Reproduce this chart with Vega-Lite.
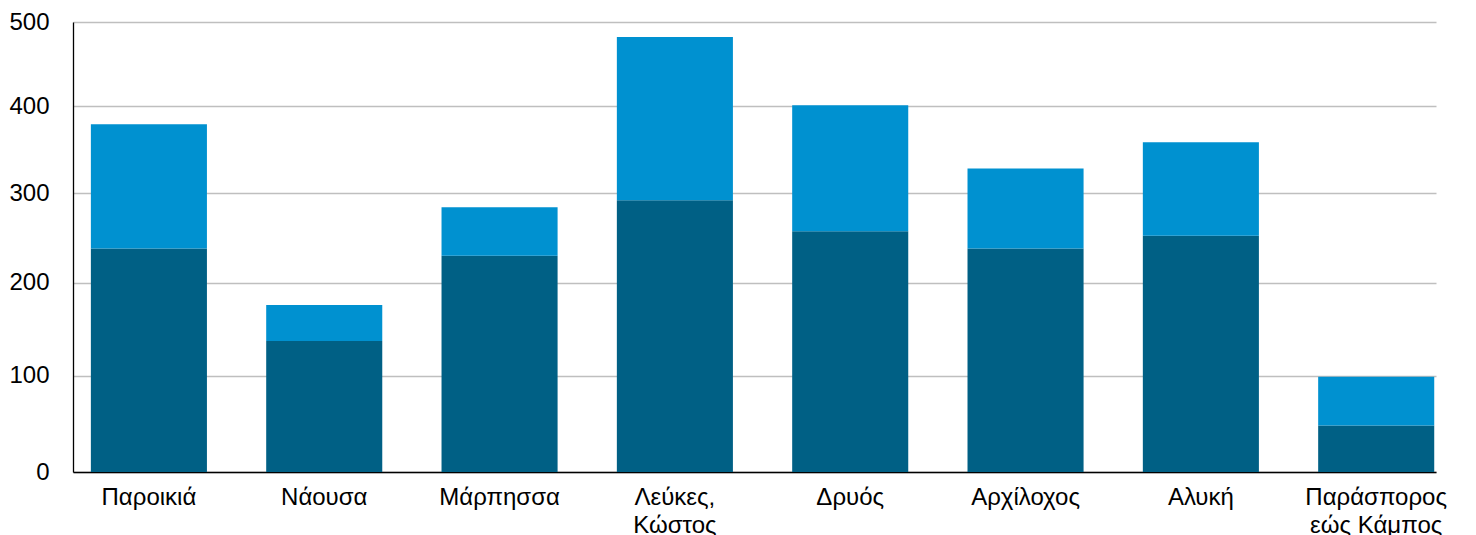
{
  "$schema": "https://vega.github.io/schema/vega-lite/v6.json",
  "autosize": {"type": "none"},
  "padding": {"left": 73, "top": 22, "right": 40, "bottom": 63},
  "width": 1363,
  "height": 450,
  "background": "white",
  "config": {
    "view": {"stroke": null},
    "font": "Liberation Sans",
    "axis": {"labelFont": "Liberation Sans", "labelColor": "#000000"}
  },
  "data": {
    "values": [
      {"area": "Παροικιά", "series": "Σειρά 1", "value": 238},
      {"area": "Παροικιά", "series": "Σειρά 2", "value": 141},
      {"area": "Νάουσα", "series": "Σειρά 1", "value": 137},
      {"area": "Νάουσα", "series": "Σειρά 2", "value": 39},
      {"area": "Μάρπησσα", "series": "Σειρά 1", "value": 230},
      {"area": "Μάρπησσα", "series": "Σειρά 2", "value": 54},
      {"area": "Λεύκες, Κώστος", "series": "Σειρά 1", "value": 292},
      {"area": "Λεύκες, Κώστος", "series": "Σειρά 2", "value": 190},
      {"area": "Δρυός", "series": "Σειρά 1", "value": 257},
      {"area": "Δρυός", "series": "Σειρά 2", "value": 144},
      {"area": "Αρχίλοχος", "series": "Σειρά 1", "value": 238},
      {"area": "Αρχίλοχος", "series": "Σειρά 2", "value": 90},
      {"area": "Αλυκή", "series": "Σειρά 1", "value": 252},
      {"area": "Αλυκή", "series": "Σειρά 2", "value": 106},
      {"area": "Παράσπορος εώς Κάμπος", "series": "Σειρά 1", "value": 48},
      {"area": "Παράσπορος εώς Κάμπος", "series": "Σειρά 2", "value": 51}
    ]
  },
  "mark": {"type": "bar"},
  "encoding": {
    "x": {
      "field": "area",
      "type": "nominal",
      "sort": ["Παροικιά", "Νάουσα", "Μάρπησσα", "Λεύκες, Κώστος", "Δρυός", "Αρχίλοχος", "Αλυκή", "Παράσπορος εώς Κάμπος"],
      "scale": {"paddingInner": 0.338, "paddingOuter": 0.056, "align": 0.91},
      "axis": {
        "title": null,
        "labelAngle": 0,
        "labelFontSize": 24,
        "labelPadding": 13,
        "labelLineHeight": 28,
        "ticks": false,
        "domainColor": "#000000",
        "domainWidth": 1.3,
        "labelExpr": "datum.label == 'Λεύκες, Κώστος' ? ['Λεύκες,', 'Κώστος'] : datum.label == 'Παράσπορος εώς Κάμπος' ? ['Παράσπορος', 'εώς Κάμπος'] : datum.label"
      }
    },
    "y": {
      "field": "value",
      "type": "quantitative",
      "aggregate": "sum",
      "stack": "zero",
      "scale": {"type": "symlog", "constant": 2750, "domain": [0, 500], "nice": false},
      "axis": {
        "title": null,
        "values": [0, 100, 200, 300, 400, 500],
        "grid": true,
        "gridColor": "#bfbfbf",
        "gridWidth": 1.3,
        "ticks": false,
        "domainColor": "#000000",
        "domainWidth": 1.3,
        "labelFontSize": 24,
        "labelPadding": 24
      }
    },
    "color": {
      "field": "series",
      "type": "nominal",
      "scale": {"domain": ["Σειρά 1", "Σειρά 2"], "range": ["#006085", "#0091D0"]},
      "legend": null
    },
    "order": {"field": "series", "sort": "ascending"}
  }
}
